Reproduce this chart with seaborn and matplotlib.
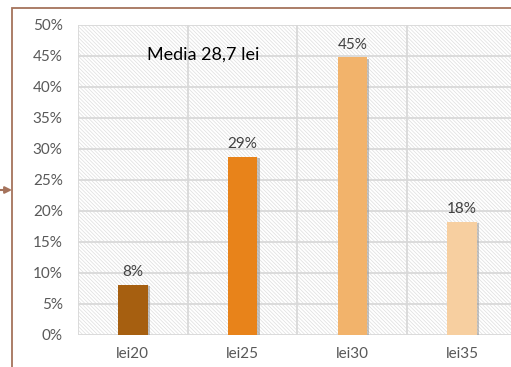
import matplotlib
matplotlib.use("Agg")
import matplotlib.pyplot as plt
import matplotlib.patheffects as pe
from matplotlib.patches import Rectangle
from matplotlib.ticker import PercentFormatter
import seaborn as sns
import pandas as pd

# date
categorii = ["lei20", "lei25", "lei30", "lei35"]
procente = [0.081, 0.287, 0.448, 0.183]
culori = ["#A65F10", "#E8831A", "#F2B36B", "#F7CFA0"]
text_media = "Media 28,7 lei"

sns.set_theme(style="white")
plt.rcParams["font.family"] = ["Lato", "DejaVu Sans"]
plt.rcParams["hatch.linewidth"] = 0.5

df = pd.DataFrame({"pret": categorii, "procent": procente})

fig = plt.figure(figsize=(5.11, 3.67), dpi=100)
ax = fig.add_axes([0.1526, 0.0872, 0.8591, 0.8447])

# fundal hasurat
fundal = Rectangle((0, 0), 1, 1, transform=ax.transAxes, facecolor="white",
                   edgecolor="#DEDEDE", hatch="\\" * 9, lw=0, zorder=0.1)
ax.add_patch(fundal)

sns.barplot(data=df, x="pret", y="procent", hue="pret", palette=culori,
            width=0.27, legend=False, ax=ax, zorder=3, saturation=1, linewidth=0)

for bar in ax.patches:
    if bar is fundal:
        continue
    bar.set_path_effects([pe.SimplePatchShadow(offset=(1.5, -1), shadow_rgbFace="#8a8a8a", alpha=0.5),
                          pe.Normal()])

for cont in ax.containers:
    ax.bar_label(cont, fmt=lambda v: f"{v:.0%}", padding=4, fontsize=11, color="#404040")

ax.set_ylim(0, 0.5)
ax.set_xlim(-0.5, 3.5)
ax.set_yticks([i * 0.05 for i in range(11)])
ax.yaxis.set_major_formatter(PercentFormatter(1.0, decimals=0))
ax.set_xticks(range(len(categorii)), categorii)
ax.set_xticks([-0.5, 0.5, 1.5, 2.5, 3.5], minor=True)

ax.set_axisbelow(True)
ax.grid(axis="y", which="major", color="#D9D9D9", lw=1.3)
ax.grid(axis="x", which="minor", color="#D9D9D9", lw=1.3)
ax.grid(axis="x", which="major", visible=False)
ax.tick_params(axis="both", which="both", length=0, labelsize=11, labelcolor="#595959")
ax.tick_params(axis="y", pad=11)
ax.tick_params(axis="x", pad=9)
ax.set_xlabel("")
ax.set_ylabel("")
for s in ax.spines.values():
    s.set_visible(False)

ax.text(0.157, 0.905, text_media, transform=ax.transAxes, fontsize=13,
        color="black", va="center", ha="left", zorder=5)

# chenarul maro si sageata
fig.add_artist(Rectangle((12 / 511, -0.1), 1.2, 0.1 + (367 - 8) / 367,
                         transform=fig.transFigure, fill=False,
                         edgecolor="#A5735C", lw=1.3))
ax.annotate("", xy=(12, 177), xytext=(-2, 177), xycoords="figure pixels",
            textcoords="figure pixels", annotation_clip=False,
            arrowprops=dict(arrowstyle="-|>", color="#A5735C", lw=1.5,
                            mutation_scale=10, shrinkA=0, shrinkB=0))

fig.savefig("out.png", dpi=100)
